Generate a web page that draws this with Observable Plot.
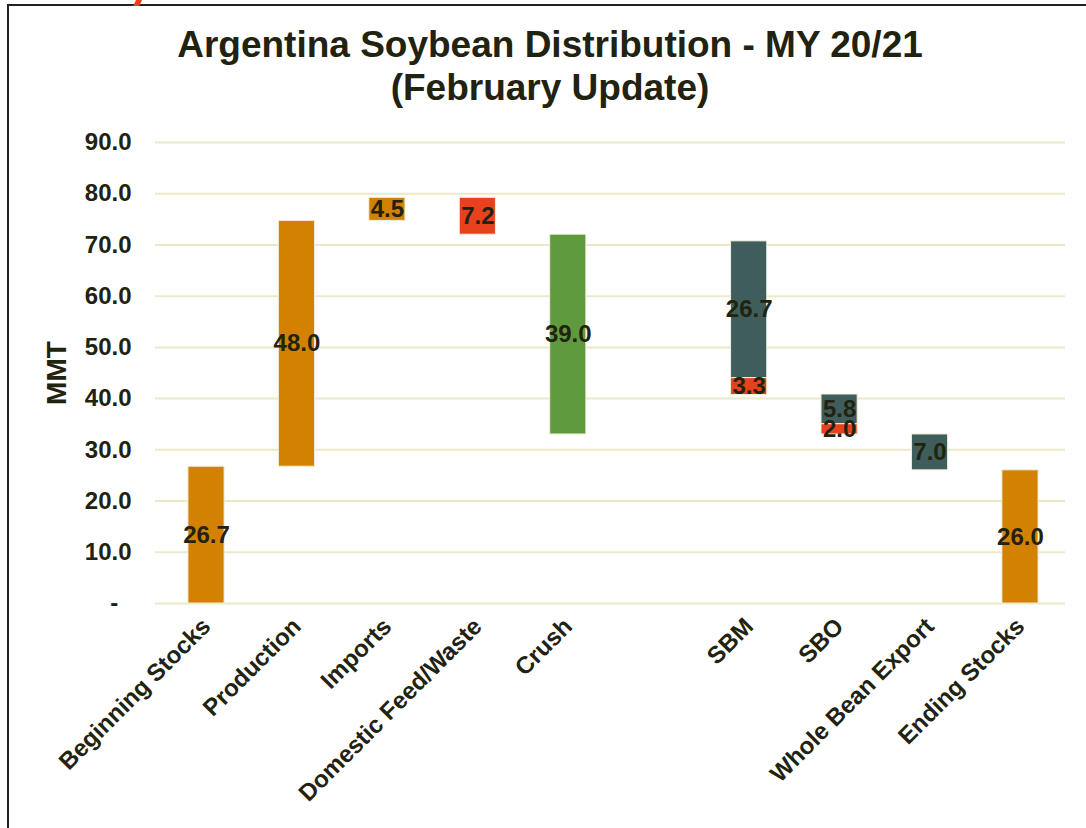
<!DOCTYPE html>
<html>
<head>
<meta charset="utf-8">
<script src="https://cdn.jsdelivr.net/npm/d3@7"></script>
<script src="https://cdn.jsdelivr.net/npm/@observablehq/plot@0.6"></script>
<style>
  html, body { margin: 0; padding: 0; background: #fff; }
  #wrap { position: relative; width: 1086px; height: 828px; overflow: hidden; font-family: "Liberation Sans", Arial, sans-serif; }
  #frame { position: absolute; left: 7px; top: 4px; right: -4px; bottom: -4px; border-left: 2px solid #222; border-top: 2px solid #222; pointer-events: none; }
  #mark { position: absolute; left: 136px; top: -6px; width: 6px; height: 12px; background: #E8401C; transform: skewX(-25deg); }
  #title { position: absolute; left: 0; top: 23px; width: 1100px; text-align: center; font-size: 37px; line-height: 43px; font-weight: bold; color: #222211; }
  #ylabel { position: absolute; left: 57px; top: 373px; transform: translate(-50%, -50%) rotate(-90deg); font-size: 28px; font-weight: bold; color: #222211; white-space: nowrap; }
  #chart { position: absolute; left: 0; top: 0; }
</style>
</head>
<body>
<div id="wrap">
  <div id="chart"></div>
  <div id="frame"></div>
  <div id="mark"></div>
  <div id="title">Argentina Soybean Distribution - MY 20/21<br>(February Update)</div>
  <div id="ylabel">MMT</div>
</div>
<script>
// Categories along the x axis (a blank slot separates Crush from SBM)
const categories = ["Beginning Stocks", "Production", "Imports", "Domestic Feed/Waste", "Crush", " ", "SBM", "SBO", "Whole Bean Export", "Ending Stocks"];

// Floating segments (MMT)
const segmentCategory = ["Beginning Stocks", "Production", "Imports", "Domestic Feed/Waste", "Crush", "SBM", "SBM", "SBO", "SBO", "Whole Bean Export", "Ending Stocks"];
const segmentBase     = [0, 26.7, 74.7, 72.0, 33.0, 44.0, 40.7, 35.0, 33.0, 26.0, 0];
const segmentValue    = [26.7, 48.0, 4.5, 7.2, 39.0, 26.7, 3.3, 5.8, 2.0, 7.0, 26.0];
const segmentType     = ["supply", "supply", "supply", "reduction", "crush", "product", "reduction", "product", "reduction", "product", "supply"];

const yTicks = [0, 10, 20, 30, 40, 50, 60, 70, 80, 90];
const typeDomain = ["supply", "reduction", "crush", "product"];

const data = segmentCategory.map((c, i) => ({
  category: c, low: segmentBase[i], value: segmentValue[i], type: segmentType[i]
}));

const ink = "#222211";
const chart = Plot.plot({
  width: 1086,
  height: 828,
  marginTop: 142,
  marginBottom: 225,
  marginLeft: 155,
  marginRight: 21,
  style: { fontFamily: "'Liberation Sans', Arial, sans-serif", color: ink, background: "transparent", overflow: "visible" },
  x: { domain: categories, paddingInner: 0.6, paddingOuter: 0.331, align: 0.55, round: false, label: null },
  y: { domain: [0, 90], label: null },
  color: { domain: typeDomain, range: ["#D28200", "#E8411D", "#5F9B3E", "#3F5E5B"] },
  marks: [
    Plot.gridY(yTicks, { stroke: "#ECE9C9", strokeOpacity: 1, strokeWidth: 2 }),
    Plot.barY(data, { x: "category", y1: "low", y2: d => d.low + d.value, fill: "type", stroke: "#F1EEDC", strokeWidth: 1 }),
    Plot.text(data, { x: "category", y: d => d.low + d.value / 2, text: d => d.value.toFixed(1), fontSize: 24, fontWeight: "bold", fill: ink }),
    Plot.axisY(yTicks, { tickSize: 0, tickPadding: 24, fontSize: 24, fontWeight: "bold", fill: ink, tickFormat: d => d === 0 ? "-\u2007" : d.toFixed(1), label: null }),
    Plot.axisX({ tickSize: 0, tickRotate: -45, tickPadding: 19, fontSize: 24, fontWeight: "bold", fill: ink, label: null })
  ]
});
document.getElementById("chart").appendChild(chart);
</script>
</body>
</html>
